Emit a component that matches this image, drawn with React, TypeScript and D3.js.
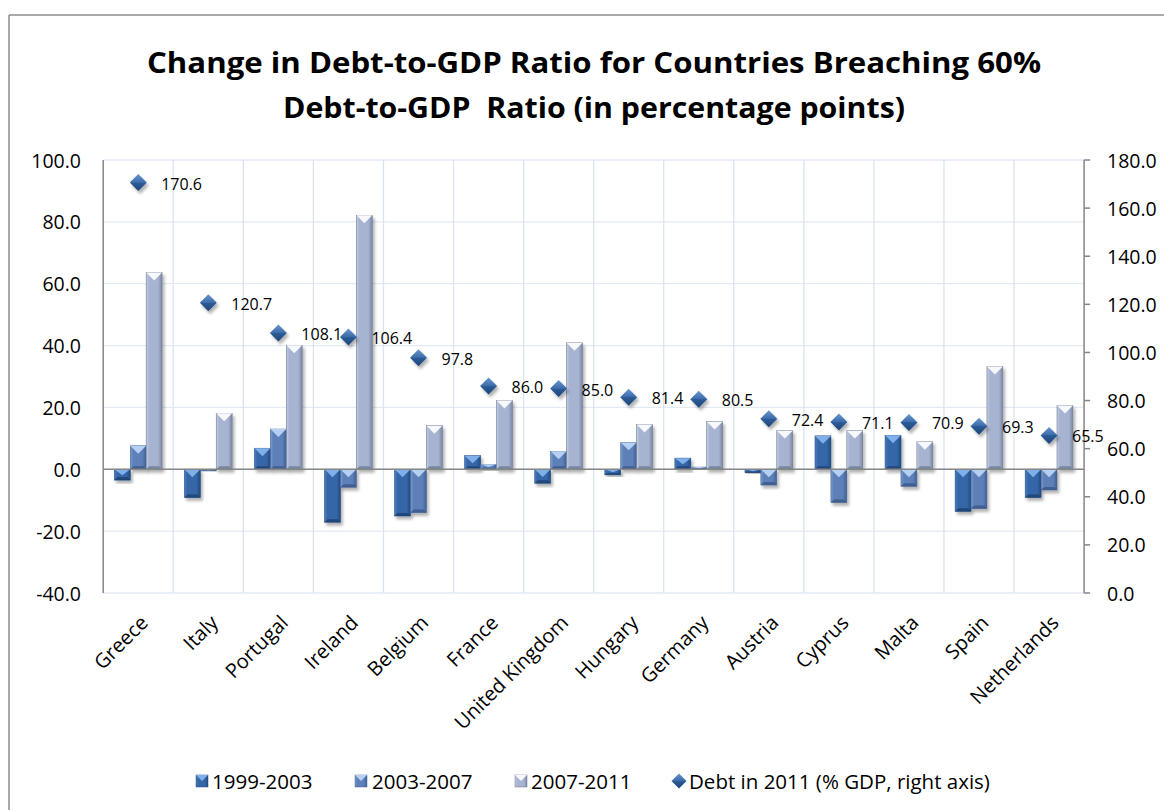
import React from 'react';
import * as d3 from 'd3';

const countries = ['Greece', 'Italy', 'Portugal', 'Ireland', 'Belgium', 'France', 'United Kingdom', 'Hungary', 'Germany', 'Austria', 'Cyprus', 'Malta', 'Spain', 'Netherlands'];
const s1999_2003 = [-3.5, -9.1, 6.8, -17.1, -15.1, 4.4, -4.5, -1.8, 3.6, -1.1, 10.8, 11.0, -13.6, -9.1];
const s2003_2007 = [7.6, -0.5, 13.0, -5.8, -14.0, 1.6, 5.8, 8.7, 0.7, -5.1, -10.7, -5.5, -12.7, -6.7];
const s2007_2011 = [63.6, 18.1, 40.1, 82.1, 14.1, 22.2, 40.9, 14.5, 15.4, 12.5, 12.5, 8.9, 33.2, 20.6];
const debt2011 = [170.6, 120.7, 108.1, 106.4, 97.8, 86.0, 85.0, 81.4, 80.5, 72.4, 71.1, 70.9, 69.3, 65.5];
const seriesNames = ['1999-2003', '2003-2007', '2007-2011'];
const debtName = 'Debt in 2011 (% GDP, right axis)';
const leftTicks = [-40, -20, 0, 20, 40, 60, 80, 100];
const rightTicks = [0, 20, 40, 60, 80, 100, 120, 140, 160, 180];
const titleLines = ['Change in Debt-to-GDP Ratio for Countries Breaching 60%', 'Debt-to-GDP  Ratio (in percentage points)'];

const W = 1164;
const H = 810;
const FONT = "'Open Sans', 'Liberation Sans', sans-serif";

const palettes = [
  { left: '#4a7fc2', base: '#3566a8', right: '#214a80', tri: '#7fb0ea', bottom: '#1b3f6e', stroke: '#244d84' },
  { left: '#7a9bcf', base: '#5d80b8', right: '#415f92', tri: '#b5d0f2', bottom: '#3a5687', stroke: '#4a6796' },
  { left: '#c3cee4', base: '#a6b4d1', right: '#7b87a3', tri: '#f6f8fc', bottom: '#6e7a96', stroke: '#6f7a93' },
];

const fmt = (v: number) => v.toFixed(1);

function Bar({ x, y0, y1, w, p, gid }: { x: number; y0: number; y1: number; w: number; p: any; gid: string }) {
  const top = Math.min(y0, y1);
  const bot = Math.max(y0, y1);
  const h = bot - top;
  if (h <= 0) return null;
  const th = Math.min(w / 2, h * 0.55);
  const bb = Math.min(3, h / 3);
  return (
    <g filter="url(#shadow)">
      <rect x={x} y={top} width={w} height={h} fill={`url(#${gid})`} stroke={p.stroke} strokeWidth={0.6} />
      <polygon points={`${x + bb},${bot - bb} ${x + w - bb},${bot - bb} ${x + w},${bot} ${x},${bot}`} fill={p.bottom} opacity={0.8} />
      <polygon points={`${x},${top} ${x + w},${top} ${x + w / 2},${top + th}`} fill={p.tri} />
    </g>
  );
}

export default function App() {
  const plotL = 103.2;
  const plotR = 1084.1;
  const plotT = 160;
  const plotB = 593;

  const x = d3.scaleBand<string>().domain(countries).range([plotL, plotR]).padding(0);
  const yL = d3.scaleLinear().domain([-40, 100]).range([plotB, plotT]);
  const yR = d3.scaleLinear().domain([0, 180]).range([plotB, plotT]);
  const barW = 15.9;
  const xs = d3.scaleBand<string>().domain(seriesNames).range([-barW * 1.5, barW * 1.5]).padding(0);

  const seriesVals = [s1999_2003, s2003_2007, s2007_2011];
  const gridV = '#dae4f1';
  const gridH = '#e3eaf4';
  const axisCol = '#868686';

  const diamond = (cx: number, cy: number, r: number) => `M${cx},${cy - r} L${cx + r},${cy} L${cx},${cy + r} L${cx - r},${cy} Z`;

  const legendItems = [
    { kind: 'bar', i: 0, mx: 196, tx: 212, label: seriesNames[0] },
    { kind: 'bar', i: 1, mx: 355, tx: 372, label: seriesNames[1] },
    { kind: 'bar', i: 2, mx: 515, tx: 531, label: seriesNames[2] },
    { kind: 'dia', i: 3, mx: 672, tx: 689, label: debtName },
  ];
  const legY = 781;
  const titleWidths = [894, 622];

  return (
    <svg width={W} height={H} style={{ position: 'absolute', left: 0, top: 0, background: '#fff' }} fontFamily={FONT}>
      <defs>
        <filter id="shadow" x="-30%" y="-30%" width="160%" height="160%">
          <feDropShadow dx="2" dy="3" stdDeviation="1.6" floodColor="#000" floodOpacity="0.3" />
        </filter>
        {palettes.map((p, i) => (
          <linearGradient key={i} id={`g${i}`} x1="0" x2="1" y1="0" y2="0">
            <stop offset="0" stopColor={p.left} />
            <stop offset="0.18" stopColor={p.base} />
            <stop offset="0.75" stopColor={p.base} />
            <stop offset="1" stopColor={p.right} />
          </linearGradient>
        ))}
        <linearGradient id="dg" x1="0" x2="0" y1="0" y2="1">
          <stop offset="0" stopColor="#6a97d0" />
          <stop offset="0.5" stopColor="#3b6aa8" />
          <stop offset="0.5" stopColor="#2d5c98" />
          <stop offset="1" stopColor="#1e4578" />
        </linearGradient>
      </defs>
      <rect x={0} y={0} width={W} height={H} fill="#fff" />
      {/* outer frame */}
      <line x1={9} y1={15} x2={W} y2={15} stroke="#8c8c8c" strokeWidth={1.5} />
      <line x1={9} y1={15} x2={9} y2={H} stroke="#8c8c8c" strokeWidth={1.5} />

      {/* title */}
      {titleLines.map((t, i) => (
        <text key={i} x={594} y={73 + i * 45} textAnchor="middle" fontSize={29} fontWeight="bold" fill="#000"
          textLength={titleWidths[i]} lengthAdjust="spacingAndGlyphs" style={{ whiteSpace: 'pre' }}>{t}</text>
      ))}

      {/* gridlines */}
      {leftTicks.map((t) => (
        <line key={'h' + t} x1={plotL} x2={plotR} y1={yL(t)} y2={yL(t)} stroke={gridH} strokeWidth={1.3} />
      ))}
      {countries.slice(1).map((c) => (
        <line key={'v' + c} x1={x(c)!} x2={x(c)!} y1={plotT} y2={plotB} stroke={gridV} strokeWidth={1.3} />
      ))}

      {/* left axis */}
      <line x1={plotL} x2={plotL} y1={plotT} y2={plotB} stroke={axisCol} strokeWidth={1.5} />
      {leftTicks.map((t) => (
        <text key={'lt' + t} x={81} y={yL(t)} textAnchor="end" dominantBaseline="central" fontSize={19.5} fill="#000">{fmt(t)}</text>
      ))}

      {/* right axis */}
      <line x1={plotR} x2={plotR} y1={plotT} y2={plotB} stroke={axisCol} strokeWidth={1.5} />
      {rightTicks.map((t) => (
        <g key={'rt' + t}>
          <line x1={plotR} x2={plotR + 6} y1={yR(t)} y2={yR(t)} stroke={axisCol} strokeWidth={1.5} />
          <text x={1107} y={yR(t)} textAnchor="start" dominantBaseline="central" fontSize={19.5} fill="#000">{fmt(t)}</text>
        </g>
      ))}

      {/* bars */}
      {countries.map((c, ci) => (
        <g key={'b' + c}>
          {seriesVals.map((vals, si) => (
            <Bar key={si} x={x(c)! + x.bandwidth() / 2 + xs(seriesNames[si])!} y0={yL(0)} y1={yL(vals[ci])} w={xs.bandwidth()} p={palettes[si]} gid={`g${si}`} />
          ))}
        </g>
      ))}

      {/* zero line */}
      <line x1={plotL} x2={plotR} y1={yL(0)} y2={yL(0)} stroke={axisCol} strokeWidth={1.5} />

      {/* debt diamonds */}
      {countries.map((c, ci) => {
        const cx = x(c)! + x.bandwidth() / 2;
        const cy = yR(debt2011[ci]);
        return (
          <g key={'d' + c}>
            <path d={diamond(cx, cy, 8.5)} fill="url(#dg)" filter="url(#shadow)" />
            <text x={cx + 23} y={cy + 1} dominantBaseline="central" fontSize={16} fill="#000">{fmt(debt2011[ci])}</text>
          </g>
        );
      })}

      {/* x labels */}
      {countries.map((c) => {
        const cx = x(c)! + x.bandwidth() / 2;
        return (
          <text key={'xl' + c} transform={`translate(${cx + 11},${624}) rotate(-45)`} textAnchor="end" fontSize={20} fill="#000">{c}</text>
        );
      })}

      {/* legend */}
      {legendItems.map((it) => (
        <g key={'lg' + it.i}>
          {it.kind === 'bar' ? (
            <g>
              <rect x={it.mx} y={legY - 6} width={12} height={12} fill={`url(#g${it.i})`} stroke={palettes[it.i].stroke} strokeWidth={0.5} />
              <polygon points={`${it.mx},${legY - 6} ${it.mx + 12},${legY - 6} ${it.mx + 6},${legY}`} fill={palettes[it.i].tri} />
            </g>
          ) : (
            <path d={diamond(it.mx + 7, legY, 7.5)} fill="url(#dg)" />
          )}
          <text x={it.tx} y={legY} dominantBaseline="central" fontSize={20.5} fill="#000">{it.label}</text>
        </g>
      ))}
    </svg>
  );
}
